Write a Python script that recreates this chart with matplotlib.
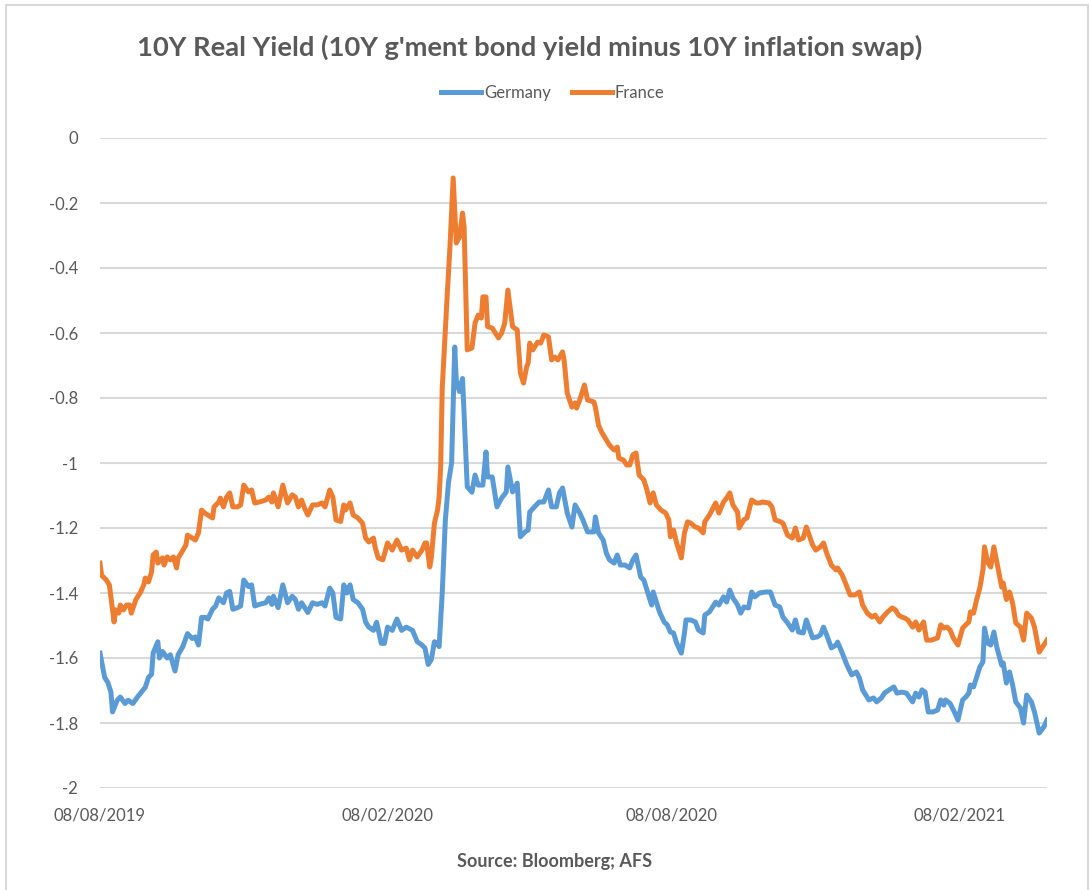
import numpy as np
import matplotlib
matplotlib.use("Agg")
import matplotlib.pyplot as plt
import matplotlib.dates as mdates
from matplotlib.patches import Rectangle

start_date = np.datetime64("2019-08-08")

# Days elapsed since 08/08/2019 and 10Y real yield values (%)
germany_days = [0, 3, 5, 7, 8, 11, 13, 16, 18, 21, 24, 29, 31, 33, 34, 37, 38, 40, 43, 45,
                48, 50, 53, 56, 59, 61, 63, 65, 67, 69, 72, 74, 76, 79, 81, 83, 85, 88, 90, 92,
                95, 97, 99, 102, 106, 108, 110, 111, 114, 117, 120, 123, 125, 127, 129, 131, 133, 136, 139, 142,
                144, 147, 149, 151, 154, 156, 158, 160, 162, 165, 168, 170, 172, 175, 177, 180, 182, 184, 187, 190,
                193, 196, 200, 203, 206, 208, 210, 212, 214, 216, 217, 219, 221, 223, 225, 227, 228, 230, 232, 235,
                238, 240, 242, 245, 247, 248, 251, 254, 257, 260, 261, 264, 267, 269, 272, 274, 275, 278, 281, 284,
                287, 289, 292, 294, 296, 299, 302, 304, 307, 309, 312, 316, 317, 319, 322, 324, 326, 329, 331, 333,
                336, 339, 341, 343, 346, 348, 350, 353, 354, 356, 358, 361, 363, 365, 367, 369, 372, 374, 375, 378,
                381, 383, 386, 387, 390, 394, 396, 399, 401, 403, 405, 408, 410, 412, 415, 417, 419, 422, 426, 429,
                432, 435, 437, 440, 443, 445, 447, 450, 452, 456, 459, 461, 463, 465, 468, 471, 472, 475, 478, 481,
                484, 486, 488, 492, 495, 497, 500, 502, 505, 508, 510, 513, 516, 520, 522, 524, 526, 528, 530, 533,
                536, 538, 540, 541, 544, 547, 549, 552, 554, 556, 557, 559, 561, 563, 565, 566, 568, 570, 572, 574,
                577, 578, 580, 582, 584, 586, 589, 591, 593, 596, 598, 601, 604, 606]
germany_vals = [-1.585, -1.66, -1.675, -1.705, -1.766, -1.73, -1.72, -1.74, -1.73, -1.74, -1.72, -1.69, -1.66, -1.65, -1.585, -1.55, -1.60, -1.58, -1.60, -1.59,
                -1.64, -1.59, -1.565, -1.525, -1.54, -1.535, -1.56, -1.475, -1.475, -1.48, -1.45, -1.44, -1.415, -1.43, -1.40, -1.395, -1.45, -1.445, -1.44, -1.36,
                -1.38, -1.375, -1.44, -1.435, -1.43, -1.415, -1.435, -1.41, -1.445, -1.375, -1.43, -1.41, -1.42, -1.45, -1.43, -1.445, -1.46, -1.43, -1.435, -1.43,
                -1.44, -1.385, -1.40, -1.475, -1.48, -1.375, -1.40, -1.375, -1.42, -1.43, -1.45, -1.49, -1.505, -1.515, -1.49, -1.555, -1.555, -1.505, -1.515, -1.48,
                -1.515, -1.505, -1.515, -1.55, -1.56, -1.57, -1.62, -1.605, -1.55, -1.555, -1.565, -1.40, -1.175, -1.06, -1.0, -0.643, -0.745, -0.78, -0.74, -1.073,
                -1.09, -1.037, -1.068, -1.068, -0.966, -1.043, -1.043, -1.135, -1.108, -1.089, -1.012, -1.089, -1.062, -1.227, -1.212, -1.206, -1.151, -1.135, -1.12, -1.12,
                -1.083, -1.135, -1.135, -1.092, -1.077, -1.154, -1.197, -1.129, -1.154, -1.175, -1.212, -1.212, -1.166, -1.215, -1.237, -1.277, -1.298, -1.308, -1.283, -1.314,
                -1.314, -1.323, -1.298, -1.283, -1.351, -1.36, -1.391, -1.437, -1.397, -1.428, -1.458, -1.489, -1.498, -1.52, -1.523, -1.554, -1.585, -1.523, -1.483, -1.483,
                -1.489, -1.514, -1.523, -1.468, -1.458, -1.428, -1.437, -1.412, -1.428, -1.391, -1.415, -1.437, -1.462, -1.443, -1.446, -1.397, -1.412, -1.40, -1.397, -1.397,
                -1.437, -1.443, -1.474, -1.492, -1.514, -1.483, -1.52, -1.523, -1.483, -1.538, -1.535, -1.529, -1.505, -1.529, -1.569, -1.56, -1.551, -1.585, -1.622, -1.652,
                -1.643, -1.662, -1.698, -1.729, -1.723, -1.735, -1.723, -1.708, -1.698, -1.689, -1.708, -1.705, -1.708, -1.735, -1.708, -1.72, -1.698, -1.705, -1.766, -1.766,
                -1.76, -1.729, -1.745, -1.729, -1.74, -1.769, -1.791, -1.729, -1.72, -1.708, -1.683, -1.689, -1.658, -1.628, -1.612, -1.508, -1.554, -1.56, -1.52, -1.569,
                -1.622, -1.615, -1.677, -1.643, -1.683, -1.735, -1.754, -1.80, -1.714, -1.735, -1.766, -1.831, -1.812, -1.791]

france_days = [0, 1, 4, 6, 8, 9, 10, 12, 13, 15, 17, 19, 20, 23, 26, 28, 29, 31, 33, 34,
               36, 37, 40, 41, 43, 45, 47, 49, 50, 52, 55, 56, 59, 61, 63, 65, 67, 69, 72, 73,
               76, 77, 79, 81, 83, 85, 88, 90, 92, 95, 97, 99, 102, 106, 108, 110, 111, 114, 117, 120,
               123, 125, 127, 129, 131, 133, 136, 139, 142, 144, 147, 149, 151, 154, 156, 157, 160, 162, 165, 168,
               170, 172, 175, 176, 178, 181, 184, 187, 190, 193, 196, 198, 200, 203, 206, 208, 209, 211, 212, 214,
               216, 217, 218, 219, 222, 224, 226, 228, 230, 232, 233, 235, 238, 240, 242, 244, 245, 247, 248, 251,
               253, 255, 257, 259, 261, 264, 267, 269, 271, 273, 274, 275, 277, 280, 282, 284, 287, 289, 291, 293,
               296, 297, 299, 302, 304, 305, 307, 310, 312, 316, 317, 319, 321, 324, 326, 329, 331, 332, 335, 337,
               339, 341, 343, 345, 348, 350, 352, 354, 356, 359, 362, 364, 365, 367, 369, 372, 374, 376, 378, 381,
               383, 386, 387, 390, 394, 396, 399, 401, 403, 405, 408, 409, 412, 414, 417, 420, 422, 424, 428, 430,
               432, 435, 437, 440, 443, 445, 447, 450, 452, 456, 458, 461, 463, 465, 468, 471, 472, 475, 477, 480,
               483, 486, 488, 491, 494, 496, 499, 501, 504, 507, 509, 511, 513, 515, 517, 520, 522, 524, 527, 529,
               532, 536, 538, 540, 542, 544, 546, 549, 552, 554, 556, 557, 559, 561, 563, 565, 566, 568, 570, 572,
               574, 577, 578, 580, 582, 584, 586, 589, 591, 593, 596, 598, 601, 604, 606]
france_vals = [-1.308, -1.345, -1.36, -1.375, -1.452, -1.489, -1.452, -1.462, -1.437, -1.452, -1.437, -1.437, -1.462, -1.42, -1.397, -1.375, -1.354, -1.366, -1.335, -1.283,
               -1.274, -1.308, -1.292, -1.314, -1.289, -1.298, -1.289, -1.323, -1.292, -1.277, -1.252, -1.222, -1.231, -1.237, -1.215, -1.145, -1.154, -1.16, -1.169, -1.135,
               -1.12, -1.108, -1.135, -1.105, -1.092, -1.135, -1.135, -1.129, -1.068, -1.089, -1.083, -1.123, -1.12, -1.114, -1.105, -1.12, -1.092, -1.135, -1.068, -1.123,
               -1.098, -1.105, -1.135, -1.114, -1.14, -1.16, -1.129, -1.129, -1.123, -1.135, -1.083, -1.105, -1.175, -1.18, -1.129, -1.145, -1.123, -1.16, -1.169, -1.185,
               -1.231, -1.243, -1.231, -1.258, -1.292, -1.298, -1.246, -1.268, -1.237, -1.268, -1.262, -1.298, -1.268, -1.289, -1.268, -1.246, -1.246, -1.32, -1.292, -1.185,
               -1.145, -1.105, -1.012, -0.77, -0.50, -0.33, -0.123, -0.323, -0.305, -0.231, -0.274, -0.652, -0.646, -0.569, -0.545, -0.554, -0.489, -0.489, -0.58, -0.585,
               -0.60, -0.615, -0.60, -0.569, -0.468, -0.58, -0.591, -0.723, -0.754, -0.705, -0.692, -0.631, -0.652, -0.628, -0.631, -0.606, -0.612, -0.683, -0.674, -0.683,
               -0.658, -0.683, -0.785, -0.828, -0.815, -0.831, -0.806, -0.76, -0.806, -0.812, -0.828, -0.883, -0.905, -0.929, -0.945, -0.96, -0.951, -0.985, -0.991, -1.006,
               -1.006, -0.975, -0.969, -1.037, -1.052, -1.083, -1.123, -1.092, -1.129, -1.145, -1.154, -1.175, -1.227, -1.206, -1.246, -1.292, -1.215, -1.181, -1.185, -1.197,
               -1.20, -1.215, -1.181, -1.16, -1.123, -1.154, -1.12, -1.108, -1.092, -1.129, -1.151, -1.20, -1.175, -1.169, -1.114, -1.123, -1.123, -1.12, -1.123, -1.135,
               -1.175, -1.18, -1.185, -1.222, -1.231, -1.20, -1.237, -1.231, -1.197, -1.252, -1.268, -1.258, -1.246, -1.277, -1.314, -1.329, -1.323, -1.345, -1.369, -1.406,
               -1.406, -1.397, -1.437, -1.462, -1.474, -1.468, -1.489, -1.474, -1.458, -1.446, -1.452, -1.468, -1.474, -1.477, -1.483, -1.505, -1.489, -1.514, -1.489, -1.545,
               -1.545, -1.538, -1.498, -1.508, -1.505, -1.514, -1.538, -1.56, -1.508, -1.498, -1.489, -1.458, -1.462, -1.42, -1.385, -1.329, -1.258, -1.305, -1.32, -1.258,
               -1.308, -1.382, -1.369, -1.42, -1.397, -1.431, -1.492, -1.505, -1.545, -1.462, -1.477, -1.505, -1.582, -1.56, -1.545]

x_tick_dates = ["2019-08-08", "2020-02-08", "2020-08-08", "2021-02-08"]
y_ticks = [0, -0.2, -0.4, -0.6, -0.8, -1, -1.2, -1.4, -1.6, -1.8, -2]
y_tick_labels = ["0", "-0.2", "-0.4", "-0.6", "-0.8", "-1", "-1.2", "-1.4", "-1.6", "-1.8", "-2"]

title = "10Y Real Yield (10Y g'ment bond yield minus 10Y inflation swap)"
source = "Source: Bloomberg; AFS"

plt.rcParams["font.family"] = ["Lato", "DejaVu Sans"]

W, H = 1090, 890
fig = plt.figure(figsize=(W / 100, H / 100), dpi=100)
fig.patch.set_facecolor("white")

# chart frame
fig.add_artist(Rectangle((6 / W, -0.01), (1082) / W, 1 - 5 / H + 0.01, transform=fig.transFigure,
                         fill=False, edgecolor="#d9d9d9", linewidth=1.5))

ax = fig.add_axes([100 / W, 1 - 788 / H, (1047 - 100) / W, (788 - 138) / H])

g_dates = (start_date + np.array(germany_days).astype("timedelta64[D]")).astype("datetime64[ms]").astype(object)
f_dates = (start_date + np.array(france_days).astype("timedelta64[D]")).astype("datetime64[ms]").astype(object)

blue = "#5B9BD5"
orange = "#ED7D31"
ax.plot(g_dates, germany_vals, color=blue, lw=3.6, solid_joinstyle="round", label="Germany", zorder=3)
ax.plot(f_dates, france_vals, color=orange, lw=3.6, solid_joinstyle="round", label="France", zorder=3)

end_date = start_date + np.timedelta64(max(germany_days[-1], france_days[-1]), "D")
ax.set_xlim(start_date.astype("datetime64[ms]").astype(object), end_date.astype("datetime64[ms]").astype(object))
ax.set_ylim(-2, 0)

ax.set_yticks(y_ticks)
ax.set_yticklabels(y_tick_labels)
xt = [np.datetime64(d).astype("datetime64[ms]").astype(object) for d in x_tick_dates]
ax.set_xticks(xt)
ax.xaxis.set_major_formatter(mdates.DateFormatter("%d/%m/%Y"))

ax.grid(axis="y", color="#d9d9d9", lw=1.5)
ax.set_axisbelow(True)
for s in ax.spines.values():
    s.set_visible(False)
ax.tick_params(axis="both", length=0, labelsize=12, labelcolor="#595959")
ax.tick_params(axis="y", pad=16)
ax.tick_params(axis="x", pad=14)

fig.text(530 / W, 1 - 47 / H, title, ha="center", va="center", fontsize=19.7, fontweight="bold", color="#595959")
fig.legend(loc="center", bbox_to_anchor=(553 / W, 1 - 93 / H), ncol=2, frameon=False, fontsize=12,
           handlelength=2.4, handletextpad=0.2, columnspacing=1.2, labelcolor="#595959")
fig.text(555 / W, 1 - 862 / H, source, ha="center", va="center", fontsize=13, fontweight="bold", color="#595959")

fig.savefig("out.png", dpi=100, facecolor="white")
